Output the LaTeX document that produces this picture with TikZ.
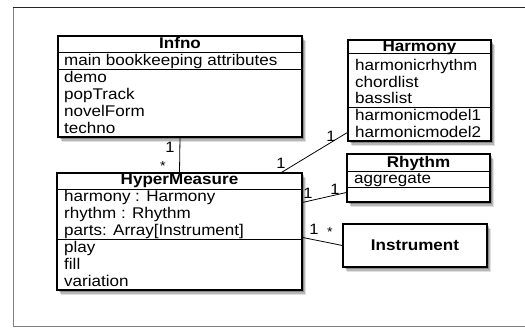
\documentclass[tikz,border=0pt]{standalone}
\usepackage{fontspec}
\setmainfont{Liberation Sans}[FakeStretch=1.1]
\usetikzlibrary{shadows}
\begin{document}
\begin{tikzpicture}[x=1pt,y=-1pt,
  box/.style={draw=black, line width=1.1pt, fill=white, inner sep=0pt,
    drop shadow={shadow xshift=4pt, shadow yshift=-5pt, fill=black, opacity=0.12},
    drop shadow={shadow xshift=3pt, shadow yshift=-3.5pt, fill=black, opacity=0.18},
    drop shadow={shadow xshift=1.5pt, shadow yshift=-2pt, fill=black, opacity=0.25}},
  ttl/.style={font=\fontsize{15.5}{17}\selectfont\bfseries, inner sep=0pt, anchor=base},
  txt/.style={font=\fontsize{15.5}{17}\selectfont, inner sep=0pt, anchor=base west},
  sep/.style={line width=0.9pt},
  conn/.style={line width=0.8pt},
  mult/.style={font=\fontsize{15}{17}\selectfont, inner sep=0pt}]
\useasboundingbox (0,0) rectangle (525,327);
\fill[white] (0,0) rectangle (525,327);
\draw[black!50, line width=1pt] (13,7) -- (13,326) -- (526,326);
\draw[black!85, line width=1pt] (12.5,7) -- (526,7);

% Infno
\node[box, minimum width=244pt, minimum height=101pt] (infno) at (180,86.5) {};
\draw[sep] (58,52) -- (302,52);
\draw[sep] (58,69) -- (302,69);
\node[ttl] (infnoT) at (180,48.5) {Infno};
\node[txt] (i1) at (64,65.5) {main bookkeeping attributes};
\node[txt] (i2) at (64,82.5) {demo};
\node[txt] (i3) at (64,99.5) {popTrack};
\node[txt] (i4) at (64,116.5) {novelForm};
\node[txt] (i5) at (64,133.5) {techno};

% Harmony
\node[box, minimum width=143pt, minimum height=101pt] (harm) at (419.5,90.5) {};
\draw[sep] (348,53) -- (491,53);
\draw[sep] (348,107) -- (491,107);
\node[ttl] (harmT) at (419.5,51) {Harmony};
\node[txt] (h1) at (355,70.5) {harmonicrhythm};
\node[txt] (h2) at (355,87) {chordlist};
\node[txt] (h3) at (355,103.5) {basslist};
\node[txt] (h4) at (355,120) {harmonicmodel1};
\node[txt] (h5) at (355,137) {harmonicmodel2};

% Rhythm
\node[box, minimum width=143pt, minimum height=48pt] (rhy) at (418.5,178) {};
\draw[sep] (347,171) -- (490,171);
\draw[sep] (347,187) -- (490,187);
\node[ttl] (rhyT) at (418.5,167) {Rhythm};
\node[txt] (r1) at (354,183.5) {aggregate};

% Instrument
\node[box, minimum width=144pt, minimum height=43pt,
  font=\fontsize{15.5}{17}\selectfont\bfseries] (instr) at (415,245.5) {Instrument};

% HyperMeasure
\node[box, minimum width=245pt, minimum height=117pt] (hm) at (179.5,231.5) {};
\draw[sep] (57,189) -- (302,189);
\draw[sep] (57,239) -- (302,239);
\node[ttl] (hmT) at (179.5,184.5) {HyperMeasure};
\node[txt] (m1) at (64,201) {harmony : Harmony};
\node[txt] (m2) at (64,218) {rhythm : Rhythm};
\node[txt] (m3) at (64,235) {parts: Array[Instrument]};
\node[txt] (m4) at (64,252.5) {play};
\node[txt] (m5) at (64,269) {fill};
\node[txt] (m6) at (64,286) {variation};

% connectors
\draw[conn] (infno.south) -- (hm.north);
\draw[conn] ([xshift=225pt]hm.north west) -- ([yshift=-93pt]harm.north west);
\draw[conn] ([yshift=-30pt]hm.north east) -- ([yshift=-39pt]rhy.north west);
\draw[conn] ([yshift=-65pt]hm.north east) -- (instr.west);

% multiplicities
\node[mult] (l1) at (170,147) {1};
\node[mult, font=\fontsize{13}{15}\selectfont] (l2) at (163,166) {*};
\node[mult] (l3) at (281,163) {1};
\node[mult] (l4) at (331,136) {1};
\node[mult] (l5) at (308,193) {1};
\node[mult] (l6) at (335,189) {1};
\node[mult] (l7) at (314,229) {1};
\node[mult, font=\fontsize{13}{15}\selectfont] (l8) at (330,232) {*};
\end{tikzpicture}
\end{document}
